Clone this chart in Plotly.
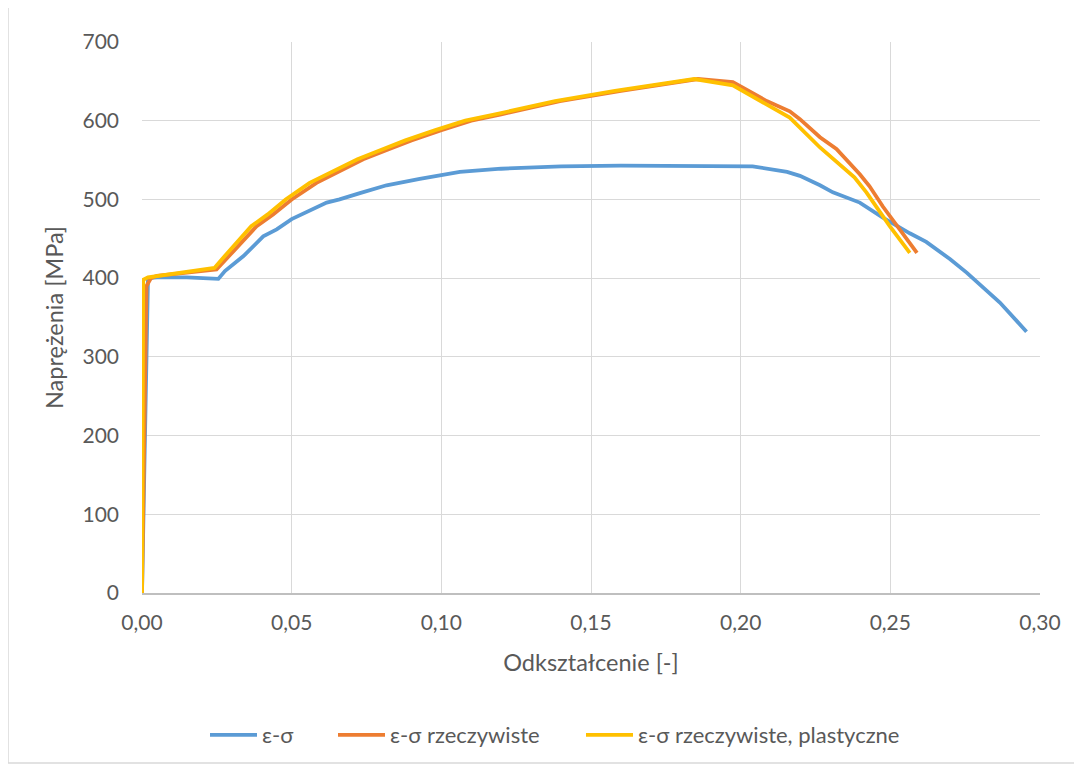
import plotly.graph_objects as go

# ---- data ----
eng_strain = [0, 0.002, 0.005, 0.015, 0.0255, 0.0277, 0.0339, 0.0405, 0.045, 0.05, 0.0617,
              0.066, 0.0728, 0.0817, 0.0928, 0.1062, 0.12, 0.14, 0.16, 0.18, 0.2, 0.204,
              0.2155, 0.2198, 0.2265, 0.2308, 0.2398, 0.2475, 0.2565, 0.262, 0.27, 0.2755,
              0.2866, 0.2955]
eng_stress = [0, 400, 401, 401, 399, 409, 428, 453, 462, 475, 496,
              500, 508, 518, 526, 535, 539, 542, 543, 543, 543, 542,
              535, 530, 518, 509, 496, 477, 457, 446, 424, 407,
              369, 332]

true_strain = [0, 0.0008, 0.0015, 0.003, 0.005, 0.015, 0.0249, 0.0305, 0.0383, 0.0438, 0.05,
               0.0583, 0.066, 0.0739, 0.082, 0.09, 0.1, 0.11, 0.12, 0.1396, 0.16, 0.175,
               0.1857, 0.1974, 0.2087, 0.2164, 0.2198, 0.2265, 0.232, 0.2398, 0.243, 0.2475,
               0.253, 0.2589]
true_stress = [0, 200, 390, 400, 403, 407, 411, 434, 466, 481, 500,
               521, 536, 551, 563, 575, 588, 600, 608, 625, 638, 647,
               653, 649, 625, 612, 602, 579, 564, 532, 517, 491,
               462, 432]

plast_strain = [0, 0.0004, 0.002, 0.012, 0.0242, 0.029, 0.0365, 0.042, 0.048, 0.056, 0.064,
                0.072, 0.08, 0.088, 0.098, 0.108, 0.118, 0.138, 0.158, 0.173, 0.1845, 0.1974,
                0.2087, 0.2164, 0.2265, 0.238, 0.242, 0.2498, 0.2565]
plast_stress = [0, 398, 401, 406, 413, 434, 466, 481, 500, 521, 536,
                551, 563, 575, 588, 600, 608, 625, 638, 647, 653, 645,
                621, 604, 566, 528, 509, 466, 432]

series_names = ["ε-σ", "ε-σ rzeczywiste", "ε-σ rzeczywiste, plastyczne"]
series_colors = ["#5B9BD5", "#ED7D31", "#FFC000"]

x_ticks = [0, 0.05, 0.10, 0.15, 0.20, 0.25, 0.30]
y_ticks = [0, 100, 200, 300, 400, 500, 600, 700]

FONT = "Lato, 'Open Sans', sans-serif"
TXT = "#595959"

# page pixel -> paper helpers (page has an 8px body margin)
L, R, T, B = 142, 1040, 42, 593
OFF = 8
def px(x):
    return (x - L) / (R - L)
def py(y):
    return (B - y) / (B - T)

legend_ids = ["legend", "legend2", "legend3"]
legend_left = [205, 333, 581]

fig = go.Figure()
for xs, ys, name, col, lg in zip([eng_strain, true_strain, plast_strain],
                                 [eng_stress, true_stress, plast_stress],
                                 series_names, series_colors, legend_ids):
    fig.add_trace(go.Scatter(x=xs, y=ys, mode="lines", name=name, legend=lg,
                             line=dict(color=col, width=3.8)))

legend_common = dict(orientation="h", xanchor="left", y=py(735), yanchor="middle",
                     font=dict(size=22, color=TXT), itemwidth=47,
                     bgcolor="rgba(0,0,0,0)")
layout_legends = {lg: dict(x=px(xl), **legend_common) for lg, xl in zip(legend_ids, legend_left)}

fig.update_layout(
    width=1082, height=767,
    margin=dict(l=L - OFF, r=1082 - (R - OFF), t=T - OFF, b=767 - (B - OFF)),
    paper_bgcolor="white", plot_bgcolor="white",
    separators=", ",
    font=dict(family=FONT, size=21, color=TXT),
    showlegend=True,
    xaxis=dict(range=[0, 0.30], tickvals=x_ticks, tickformat=".2f",
               showgrid=True, gridcolor="#D9D9D9", gridwidth=1.3,
               showline=True, linecolor="#BFBFBF", linewidth=1.5,
               zeroline=False, ticks="", ticklabelstandoff=10,
               tickfont=dict(size=21, color=TXT),
               title=dict(text="Odkształcenie [-]", font=dict(size=23.5, color=TXT), standoff=22)),
    yaxis=dict(range=[0, 700], tickvals=y_ticks,
               showgrid=True, gridcolor="#D9D9D9", gridwidth=1.3,
               showline=False, zeroline=False, ticks="", ticklabelstandoff=22,
               tickfont=dict(size=21, color=TXT),
               title=dict(text="Naprężenia [MPa]", font=dict(size=23.5, color=TXT), standoff=12)),
    shapes=[dict(type="rect", xref="paper", yref="paper",
                 x0=px(8), x1=px(1078), y0=py(763), y1=py(2),
                 line=dict(color="#D9D9D9", width=1.5), fillcolor="rgba(0,0,0,0)", layer="below")],
    **layout_legends,
)

fig.write_html("out.html")
